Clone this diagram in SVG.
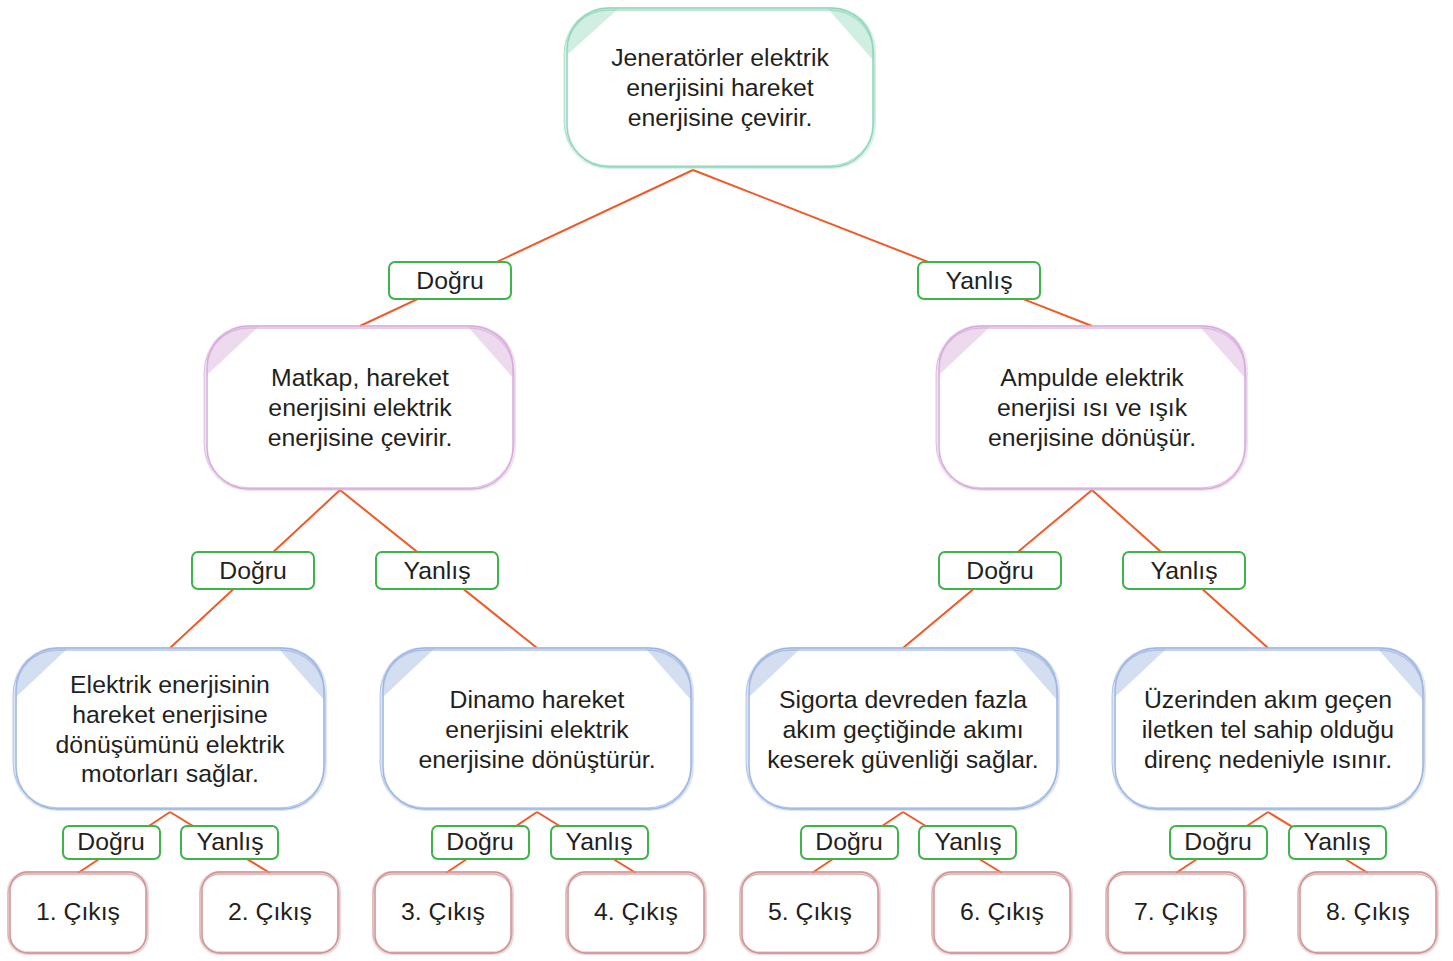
<svg xmlns="http://www.w3.org/2000/svg" width="1453" height="961" viewBox="0 0 1453 961">
<style>
text{font-family:"Liberation Sans",Arial,sans-serif;font-size:24.8px;fill:#231f20;text-anchor:middle;dominant-baseline:central}
.w{fill:#fff}
.s1{fill:none;stroke-width:4;opacity:.35}
.s2{fill:none;stroke-width:1.3}
.s3{fill:none;stroke-width:1;opacity:.7}
.g .s1,.g .s2,.g .s3{stroke:#8fd6b9}.g .c{fill:#9ad9bf;opacity:.45}
.p .s1,.p .s2,.p .s3{stroke:#d6acd9}.p .c{fill:#d6acd9;opacity:.45}
.b .s1,.b .s2,.b .s3{stroke:#9db5df}.b .c{fill:#9db5df;opacity:.45}
.r .s1,.r .s2,.r .s3{stroke:#cf9194}
.lb{fill:#fff;stroke:#3db54a;stroke-width:2}
.ln{stroke:#f05a28;stroke-width:2;fill:none}
</style>
<g id="connectors">
<line class="ln" x1="693" y1="170" x2="360" y2="326"/>
<line class="ln" x1="693" y1="170" x2="1092" y2="326"/>
<line class="ln" x1="340" y1="490" x2="170" y2="648"/>
<line class="ln" x1="340" y1="490" x2="537" y2="648"/>
<line class="ln" x1="1092" y1="490" x2="903" y2="648"/>
<line class="ln" x1="1092" y1="490" x2="1268" y2="648"/>
<line class="ln" x1="170" y1="812" x2="78" y2="873"/>
<line class="ln" x1="170" y1="812" x2="270" y2="873"/>
<line class="ln" x1="537" y1="812" x2="446" y2="873"/>
<line class="ln" x1="537" y1="812" x2="636" y2="873"/>
<line class="ln" x1="903" y1="812" x2="812" y2="873"/>
<line class="ln" x1="903" y1="812" x2="1002" y2="873"/>
<line class="ln" x1="1268" y1="812" x2="1176" y2="873"/>
<line class="ln" x1="1268" y1="812" x2="1368" y2="873"/>
</g>
<g id="n0" class="g">
<rect class="w" x="566" y="9" width="308" height="158" rx="42"/>
<path class="c" d="M567,55 L567,50 Q567,10 610,9 L618,9 Z"/>
<path class="c" d="M828,9 L832,9 Q873,10 873,50 L873,60 Z"/>
<rect class="s1" x="566" y="9" width="308" height="158" rx="42"/>
<rect class="s2" x="567" y="8" width="306" height="159" rx="42"/>
<rect class="s3" x="564" y="10" width="310" height="156" rx="45"/>
<text x="720" y="57">Jeneratörler elektrik</text>
<text x="720" y="87">enerjisini hareket</text>
<text x="720" y="117">enerjisine çevirir.</text>
</g>
<g id="n1" class="p">
<rect class="w" x="206" y="327" width="308" height="162" rx="42"/>
<path class="c" d="M207,375 L207,368 Q207,328 250,327 L258,327 Z"/>
<path class="c" d="M468,327 L472,327 Q513,328 513,368 L513,378 Z"/>
<rect class="s1" x="206" y="327" width="308" height="162" rx="42"/>
<rect class="s2" x="207" y="326" width="306" height="163" rx="42"/>
<rect class="s3" x="204" y="328" width="310" height="160" rx="45"/>
<text x="360" y="377">Matkap, hareket</text>
<text x="360" y="407">enerjisini elektrik</text>
<text x="360" y="437">enerjisine çevirir.</text>
</g>
<g id="n2" class="p">
<rect class="w" x="938" y="327" width="308" height="162" rx="42"/>
<path class="c" d="M939,375 L939,368 Q939,328 982,327 L990,327 Z"/>
<path class="c" d="M1200,327 L1204,327 Q1245,328 1245,368 L1245,378 Z"/>
<rect class="s1" x="938" y="327" width="308" height="162" rx="42"/>
<rect class="s2" x="939" y="326" width="306" height="163" rx="42"/>
<rect class="s3" x="936" y="328" width="310" height="160" rx="45"/>
<text x="1092" y="377">Ampulde elektrik</text>
<text x="1092" y="407">enerjisi ısı ve ışık</text>
<text x="1092" y="437">enerjisine dönüşür.</text>
</g>
<g id="n3" class="b">
<rect class="w" x="15" y="649" width="310" height="160" rx="42"/>
<path class="c" d="M16,697 L16,690 Q16,650 59,649 L67,649 Z"/>
<path class="c" d="M279,649 L283,649 Q324,650 324,690 L324,700 Z"/>
<rect class="s1" x="15" y="649" width="310" height="160" rx="42"/>
<rect class="s2" x="16" y="648" width="308" height="161" rx="42"/>
<rect class="s3" x="13" y="650" width="312" height="158" rx="45"/>
<text x="170" y="684">Elektrik enerjisinin</text>
<text x="170" y="714">hareket enerjisine</text>
<text x="170" y="744">dönüşümünü elektrik</text>
<text x="170" y="773">motorları sağlar.</text>
</g>
<g id="n4" class="b">
<rect class="w" x="382" y="649" width="310" height="160" rx="42"/>
<path class="c" d="M383,697 L383,690 Q383,650 426,649 L434,649 Z"/>
<path class="c" d="M646,649 L650,649 Q691,650 691,690 L691,700 Z"/>
<rect class="s1" x="382" y="649" width="310" height="160" rx="42"/>
<rect class="s2" x="383" y="648" width="308" height="161" rx="42"/>
<rect class="s3" x="380" y="650" width="312" height="158" rx="45"/>
<text x="537" y="699">Dinamo hareket</text>
<text x="537" y="729">enerjisini elektrik</text>
<text x="537" y="759">enerjisine dönüştürür.</text>
</g>
<g id="n5" class="b">
<rect class="w" x="748" y="649" width="310" height="160" rx="42"/>
<path class="c" d="M749,697 L749,690 Q749,650 792,649 L800,649 Z"/>
<path class="c" d="M1012,649 L1016,649 Q1057,650 1057,690 L1057,700 Z"/>
<rect class="s1" x="748" y="649" width="310" height="160" rx="42"/>
<rect class="s2" x="749" y="648" width="308" height="161" rx="42"/>
<rect class="s3" x="746" y="650" width="312" height="158" rx="45"/>
<text x="903" y="699">Sigorta devreden fazla</text>
<text x="903" y="729">akım geçtiğinde akımı</text>
<text x="903" y="759">keserek güvenliği sağlar.</text>
</g>
<g id="n6" class="b">
<rect class="w" x="1114" y="649" width="310" height="160" rx="42"/>
<path class="c" d="M1115,697 L1115,690 Q1115,650 1158,649 L1166,649 Z"/>
<path class="c" d="M1378,649 L1382,649 Q1423,650 1423,690 L1423,700 Z"/>
<rect class="s1" x="1114" y="649" width="310" height="160" rx="42"/>
<rect class="s2" x="1115" y="648" width="308" height="161" rx="42"/>
<rect class="s3" x="1112" y="650" width="312" height="158" rx="45"/>
<text x="1268" y="699">Üzerinden akım geçen</text>
<text x="1268" y="729">iletken tel sahip olduğu</text>
<text x="1268" y="759">direnç nedeniyle ısınır.</text>
</g>
<g id="e1" class="r"><rect class="w" x="9" y="873" width="138" height="80" rx="18"/><rect class="s1" x="9" y="873" width="138" height="80" rx="18"/><rect class="s2" x="10" y="872" width="136" height="81" rx="18"/><rect class="s3" x="8" y="874" width="139" height="79" rx="20"/><text x="78" y="911">1. Çıkış</text></g>
<g id="e2" class="r"><rect class="w" x="201" y="873" width="138" height="80" rx="18"/><rect class="s1" x="201" y="873" width="138" height="80" rx="18"/><rect class="s2" x="202" y="872" width="136" height="81" rx="18"/><rect class="s3" x="200" y="874" width="139" height="79" rx="20"/><text x="270" y="911">2. Çıkış</text></g>
<g id="e3" class="r"><rect class="w" x="374" y="873" width="138" height="80" rx="18"/><rect class="s1" x="374" y="873" width="138" height="80" rx="18"/><rect class="s2" x="375" y="872" width="136" height="81" rx="18"/><rect class="s3" x="373" y="874" width="139" height="79" rx="20"/><text x="443" y="911">3. Çıkış</text></g>
<g id="e4" class="r"><rect class="w" x="567" y="873" width="138" height="80" rx="18"/><rect class="s1" x="567" y="873" width="138" height="80" rx="18"/><rect class="s2" x="568" y="872" width="136" height="81" rx="18"/><rect class="s3" x="566" y="874" width="139" height="79" rx="20"/><text x="636" y="911">4. Çıkış</text></g>
<g id="e5" class="r"><rect class="w" x="741" y="873" width="138" height="80" rx="18"/><rect class="s1" x="741" y="873" width="138" height="80" rx="18"/><rect class="s2" x="742" y="872" width="136" height="81" rx="18"/><rect class="s3" x="740" y="874" width="139" height="79" rx="20"/><text x="810" y="911">5. Çıkış</text></g>
<g id="e6" class="r"><rect class="w" x="933" y="873" width="138" height="80" rx="18"/><rect class="s1" x="933" y="873" width="138" height="80" rx="18"/><rect class="s2" x="934" y="872" width="136" height="81" rx="18"/><rect class="s3" x="932" y="874" width="139" height="79" rx="20"/><text x="1002" y="911">6. Çıkış</text></g>
<g id="e7" class="r"><rect class="w" x="1107" y="873" width="138" height="80" rx="18"/><rect class="s1" x="1107" y="873" width="138" height="80" rx="18"/><rect class="s2" x="1108" y="872" width="136" height="81" rx="18"/><rect class="s3" x="1106" y="874" width="139" height="79" rx="20"/><text x="1176" y="911">7. Çıkış</text></g>
<g id="e8" class="r"><rect class="w" x="1299" y="873" width="138" height="80" rx="18"/><rect class="s1" x="1299" y="873" width="138" height="80" rx="18"/><rect class="s2" x="1300" y="872" width="136" height="81" rx="18"/><rect class="s3" x="1298" y="874" width="139" height="79" rx="20"/><text x="1368" y="911">8. Çıkış</text></g>
<g id="labels">
<g id="l1"><rect class="lb" x="389" y="262" width="122" height="37" rx="6"/><text x="450" y="280">Doğru</text></g>
<g id="l2"><rect class="lb" x="918" y="262" width="122" height="37" rx="6"/><text x="979" y="280">Yanlış</text></g>
<g id="l3"><rect class="lb" x="192" y="552" width="122" height="37" rx="6"/><text x="253" y="570">Doğru</text></g>
<g id="l4"><rect class="lb" x="376" y="552" width="122" height="37" rx="6"/><text x="437" y="570">Yanlış</text></g>
<g id="l5"><rect class="lb" x="939" y="552" width="122" height="37" rx="6"/><text x="1000" y="570">Doğru</text></g>
<g id="l6"><rect class="lb" x="1123" y="552" width="122" height="37" rx="6"/><text x="1184" y="570">Yanlış</text></g>
<g id="l7"><rect class="lb" x="63" y="826" width="97" height="33" rx="6"/><text x="111" y="841">Doğru</text></g>
<g id="l8"><rect class="lb" x="181" y="826" width="97" height="33" rx="6"/><text x="230" y="841">Yanlış</text></g>
<g id="l9"><rect class="lb" x="432" y="826" width="97" height="33" rx="6"/><text x="480" y="841">Doğru</text></g>
<g id="l10"><rect class="lb" x="551" y="826" width="97" height="33" rx="6"/><text x="599" y="841">Yanlış</text></g>
<g id="l11"><rect class="lb" x="801" y="826" width="97" height="33" rx="6"/><text x="849" y="841">Doğru</text></g>
<g id="l12"><rect class="lb" x="919" y="826" width="97" height="33" rx="6"/><text x="968" y="841">Yanlış</text></g>
<g id="l13"><rect class="lb" x="1170" y="826" width="97" height="33" rx="6"/><text x="1218" y="841">Doğru</text></g>
<g id="l14"><rect class="lb" x="1289" y="826" width="97" height="33" rx="6"/><text x="1337" y="841">Yanlış</text></g>
</g>
</svg>
